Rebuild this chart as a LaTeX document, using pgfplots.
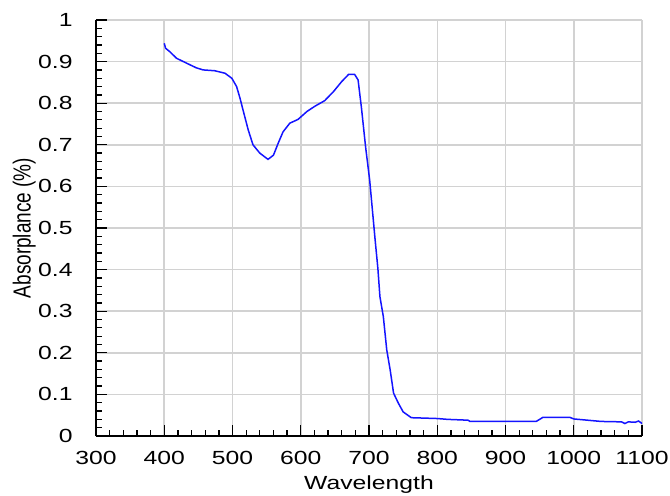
\documentclass[border=0pt]{standalone}
\usepackage{fontspec}
\setmainfont{Liberation Sans}
\usepackage{pgfplots}
\pgfplotsset{compat=1.18}
\definecolor{gridgray}{RGB}{210,210,210}
\begin{document}
\fontsize{19bp}{22bp}\selectfont
\begin{tikzpicture}
\useasboundingbox (-96bp,-60bp) rectangle (574bp,436bp);
\begin{axis}[
  at={(0,0)}, anchor=south west,
  scale only axis,
  width=546bp, height=416bp,
  xmin=300, xmax=1100, ymin=0, ymax=1,
  xtick={300,400,...,1100},
  ytick={0,0.1,...,1},
  minor x tick num=4, minor y tick num=4,
  axis x line*=bottom, axis y line*=left,
  axis line style={black, line width=1.5bp, -},
  tick style={black, line width=1.3bp},
  major tick length=11bp, minor tick length=6bp,
  tick align=inside,
  grid=major,
  major grid style={gridgray, line width=1.5bp},
  /pgf/number format/assume math mode=true,
  /pgf/number format/1000 sep={},
  yticklabel style={xshift=-15bp, xscale=1.3, font=\fontsize{19bp}{22bp}\selectfont},
  xticklabel style={yshift=-9bp, xscale=1.3, font=\fontsize{19bp}{22bp}\selectfont},
  xlabel={Wavelength},
  ylabel={Absorplance (\%)},
  label style={font=\fontsize{19bp}{22bp}\selectfont},
  xlabel style={xscale=1.3, yshift=2bp},
  ylabel style={yscale=1.3, yshift=-11bp},
  clip=false,
]
\addplot[color={rgb,255:red,20;green,20;blue,255}, line width=1.5bp] coordinates {
(400,0.944) (402,0.932) (408,0.924) (418,0.908) (433,0.896) (447,0.885)
(457,0.880) (474,0.878) (489,0.872) (499,0.860) (506,0.840) (511,0.812)
(516,0.780) (523,0.736) (530,0.700) (540,0.680) (552,0.665) (560,0.675)
(567,0.704) (574,0.731) (584,0.752) (596,0.761) (609,0.780) (621,0.793)
(635,0.806) (648,0.828) (660,0.852) (670,0.869) (679,0.869) (684,0.856)
(689,0.788) (695,0.695) (701,0.615) (705,0.543) (709,0.471) (713,0.403)
(716,0.335) (721,0.287) (726,0.207) (731,0.159) (736,0.103) (743,0.079)
(750,0.058) (762,0.044) (800,0.042) (815,0.040) (845,0.038) (848,0.035)
(945,0.035) (950,0.040) (955,0.045) (994,0.045) (1000,0.041) (1020,0.038)
(1040,0.035) (1070,0.034) (1075,0.030) (1080,0.034) (1090,0.033) (1095,0.036)
(1100,0.030)
};
\end{axis}
\end{tikzpicture}
\end{document}
